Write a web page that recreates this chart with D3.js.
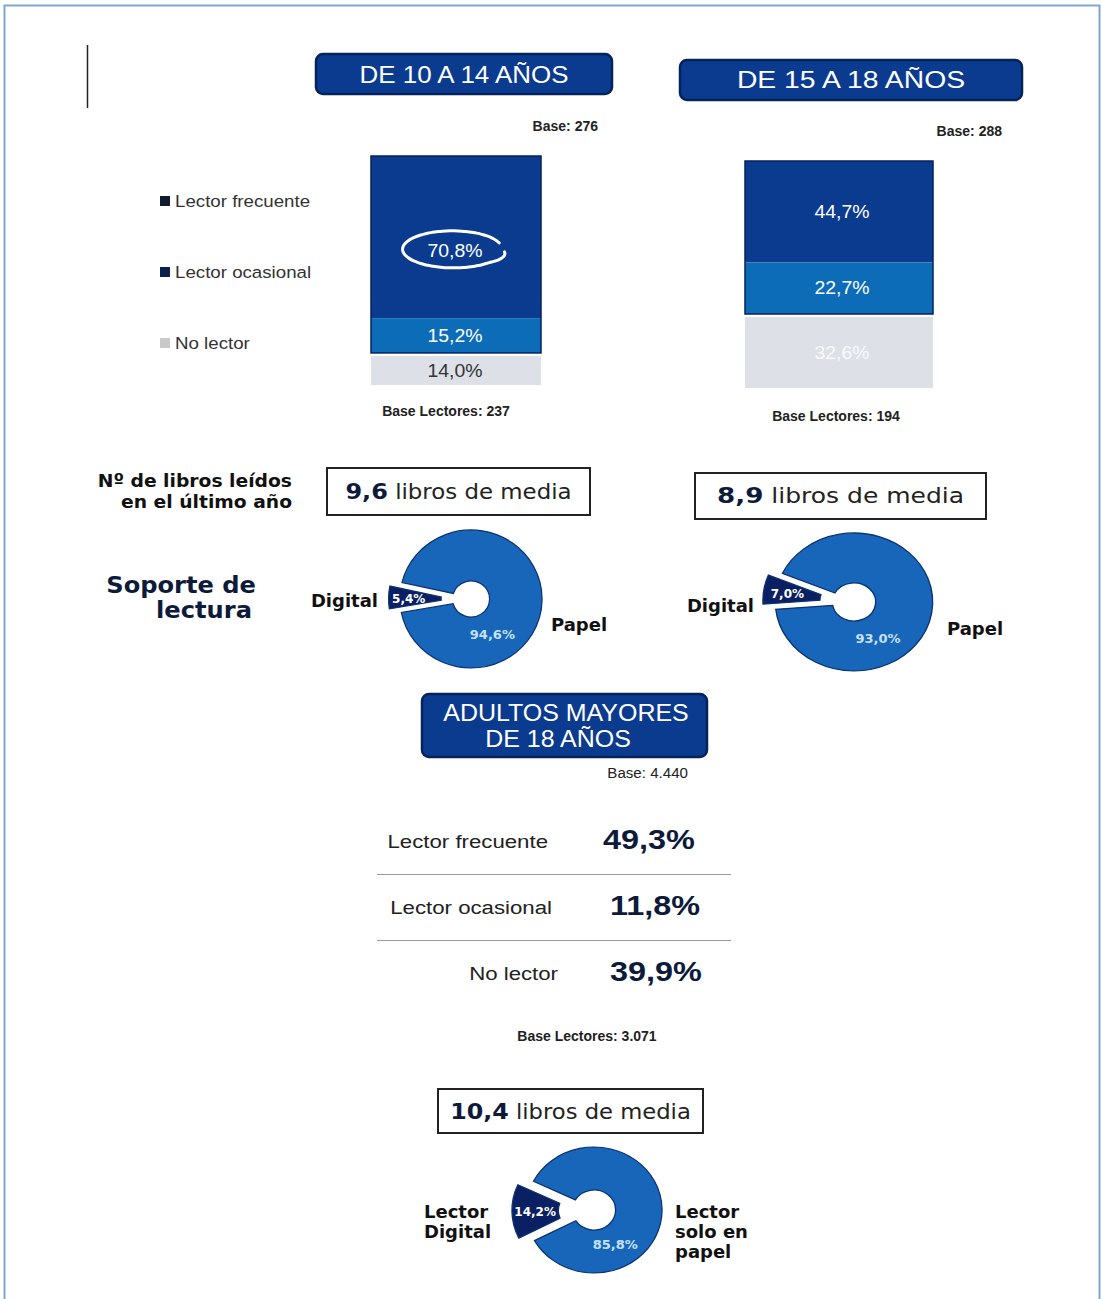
<!DOCTYPE html>
<html>
<head>
<meta charset="utf-8">
<script src="https://cdn.jsdelivr.net/npm/d3@7"></script>
<style>
  body { margin: 0; background: #fff; }
</style>
</head>
<body>
<div id="chart"></div>
<script>
// datos
const categories = ["Lector frecuente", "Lector ocasional", "No lector"];
const groupTitles = ["DE 10 A 14 AÑOS", "DE 15 A 18 AÑOS"];
const values1014 = [70.8, 15.2, 14.0];
const values1518 = [44.7, 22.7, 32.6];
const baseLabels = ["Base: 276", "Base: 288"];
const baseLectoresLabels = ["Base Lectores: 237", "Base Lectores: 194"];
const librosMedia = [9.6, 8.9, 10.4];
const supportLabels = ["Digital", "Papel"];
const support1014 = [5.4, 94.6];
const support1518 = [7.0, 93.0];
const supportAdults = [14.2, 85.8];
const adultTitle = ["ADULTOS MAYORES", "DE 18 AÑOS"];
const adultValues = [49.3, 11.8, 39.9];
const adultBase = "Base: 4.440";
const adultBaseLectores = "Base Lectores: 3.071";

const SANS = "'Liberation Sans', Arial, sans-serif";
const VERD = "'DejaVu Sans', Verdana, sans-serif";
const NAVY = "#0b3b8f";
const MID = "#0d6cb8";
const GREY = "#dde0e7";
const PAPEL = "#1766b9";
const DIGI = "#0b1f63";

const locale = d3.formatLocale({ decimal: ",", thousands: ".", grouping: [3], currency: ["", "€"] });
const f1 = locale.format(".1f");
const pct = (v) => f1(v) + "%";

const width = 1102;
const height = 1299;

const svg = d3
  .select("#chart")
  .append("svg")
  .attr("width", width)
  .attr("height", height);

function addText(sel, x, y, str, o = {}) {
  return sel
    .append("text")
    .attr("transform", `translate(${x},${y}) scale(${o.sx || 1},1)`)
    .attr("text-anchor", o.anchor || "start")
    .attr("dominant-baseline", "central")
    .style("font-family", o.family || SANS)
    .style("font-size", (o.size || 14) + "px")
    .style("font-weight", o.weight || "normal")
    .style("fill", o.fill || "#222")
    .text(str);
}

// marco
svg
  .append("rect")
  .attr("x", 4.5)
  .attr("y", 5.5)
  .attr("width", 1095)
  .attr("height", 1310)
  .style("fill", "none")
  .style("stroke", "#7fa5d4")
  .style("stroke-width", 2);

svg
  .append("line")
  .attr("x1", 87.5).attr("x2", 87.5)
  .attr("y1", 45).attr("y2", 108)
  .style("stroke", "#222")
  .style("stroke-width", 1.5);

function header(x, y, w, h, lines, o) {
  svg
    .append("rect")
    .attr("x", x).attr("y", y)
    .attr("width", w).attr("height", h)
    .attr("rx", 7)
    .style("fill", NAVY)
    .style("stroke", "#06225c")
    .style("stroke-width", 2.5);
  lines.forEach((t, i) => {
    addText(svg, o.cx[i], o.cy[i], t, { anchor: "middle", size: 24, fill: "#fff", sx: o.sx || 1 });
  });
}

header(316, 54, 296, 40, [groupTitles[0]], { cx: [464], cy: [74], sx: 1.08 });
header(680, 60, 342, 40, [groupTitles[1]], { cx: [851], cy: [80], sx: 1.18 });

// leyenda
const legendColors = ["#111a2e", "#0c1f4f", "#c9c9c9"];
const legendY = [201, 272, 343];
categories.forEach((c, i) => {
  svg
    .append("rect")
    .attr("x", 160).attr("y", legendY[i] - 5)
    .attr("width", 10).attr("height", 10)
    .style("fill", legendColors[i]);
  addText(svg, 175, legendY[i], c, { size: 17, fill: "#333", sx: 1.1 });
});

// barras apiladas
const barPanels = [
  { values: values1014, x: 371, w: 170, top: 156, h: 229, base: baseLabels[0], baseX: 598, baseY: 126, bl: baseLectoresLabels[0], blX: 446, blY: 411, labelColors: ["#fff", "#fff", "#333"] },
  { values: values1518, x: 745, w: 188, top: 161, h: 227, base: baseLabels[1], baseX: 1002, baseY: 131, bl: baseLectoresLabels[1], blX: 836, blY: 416, labelColors: ["#fff", "#fff", "rgba(255,255,255,0.85)"] },
];
const segColors = [NAVY, MID, GREY];

barPanels.forEach((p, pi) => {
  const y = d3.scaleLinear().domain([0, 100]).range([p.top, p.top + p.h]);
  const ends = d3.cumsum(p.values);
  const segs = p.values.map((v, i) => ({ v, y0: i ? ends[i - 1] : 0, y1: ends[i], i }));
  const g = svg.append("g");

  g.selectAll(".seg")
    .data(segs)
    .enter()
    .append("rect")
    .attr("class", "seg")
    .attr("x", p.x)
    .attr("width", p.w)
    .attr("y", (d) => y(d.y0) + (d.i === 2 ? 3 : 0))
    .attr("height", (d) => y(d.y1) - y(d.y0) - (d.i === 2 ? 3 : 0))
    .style("fill", (d) => segColors[d.i]);

  // contorno lectores
  g.append("rect")
    .attr("x", p.x).attr("y", y(0))
    .attr("width", p.w).attr("height", y(ends[1]) - y(0))
    .style("fill", "none")
    .style("stroke", "#07205a")
    .style("stroke-width", 1.5);

  segs.forEach((d) => {
    let ly = (y(d.y0) + y(d.y1)) / 2 + (d.i === 2 ? 1.5 : 0);
    if (pi === 0 && d.i === 0) ly += 14;
    addText(g, p.x + p.w / 2 + (pi === 0 ? -1 : 3), ly, pct(d.v), { anchor: "middle", size: 18, fill: p.labelColors[d.i], sx: 1.08 });
  });

  addText(svg, p.baseX, p.baseY, p.base, { anchor: "end", size: 14, weight: "bold", fill: "#222" });
  addText(svg, p.blX, p.blY, p.bl, { anchor: "middle", size: 14, weight: "bold", fill: "#222" });
});

// óvalo dibujado a mano alrededor del 70,8%
{
  const y = d3.scaleLinear().domain([0, 100]).range([156, 385]);
  const cx = 453;
  const cy = (y(0) + y(values1014[0])) / 2 + 14;
  const pts = d3.range(0.35, 2 * Math.PI + 0.15, 0.08).map((a) => {
    const grow = 1 + 0.06 * (a / (2 * Math.PI));
    return [cx + 49 * grow * Math.cos(a), cy - 2 + 18 * grow * Math.sin(-a) + (a > 5.5 ? (a - 5.5) * 6 : 0)];
  });
  svg
    .append("path")
    .attr("d", d3.line().curve(d3.curveBasis)(pts))
    .style("fill", "none")
    .style("stroke", "#fff")
    .style("stroke-width", 3)
    .style("stroke-linecap", "round");
}

// libros de media
addText(svg, 292, 481, "Nº de libros leídos", { anchor: "end", size: 18, weight: "bold", family: VERD, fill: "#111", sx: 1.04 });
addText(svg, 292, 502, "en el último año", { anchor: "end", size: 18, weight: "bold", family: VERD, fill: "#111", sx: 1.04 });

function mediaBox(x, y, w, h, v, sx) {
  svg
    .append("rect")
    .attr("x", x).attr("y", y)
    .attr("width", w).attr("height", h)
    .style("fill", "#fff")
    .style("stroke", "#222")
    .style("stroke-width", 2);
  const t = svg
    .append("text")
    .attr("transform", `translate(${x + w / 2},${y + h / 2}) scale(${sx},1)`)
    .attr("text-anchor", "middle")
    .attr("dominant-baseline", "central")
    .style("font-family", VERD)
    .style("font-size", "21px")
    .style("fill", "#222");
  t.append("tspan").style("font-weight", "bold").style("font-size", "22px").style("fill", "#0d1a3a").text(f1(v));
  t.append("tspan").text(" libros de media");
}

mediaBox(327, 468, 263, 47, librosMedia[0], 1.09);
mediaBox(695, 473, 291, 46, librosMedia[1], 1.19);
mediaBox(438, 1089, 265, 44, librosMedia[2], 1.08);

addText(svg, 256, 585, "Soporte de", { anchor: "end", size: 23, weight: "bold", family: VERD, fill: "#0d1a3a", sx: 1.05 });
addText(svg, 252, 610, "lectura", { anchor: "end", size: 23, weight: "bold", family: VERD, fill: "#0d1a3a", sx: 1.05 });

// donuts
function donut(values, o) {
  const p = values[0] / 100;
  const tc = (o.angle * Math.PI) / 180;
  const pie = d3
    .pie()
    .sort(null)
    .value((d) => d)
    .padAngle(0.05)
    .startAngle(tc - Math.PI * p)
    .endAngle(tc - Math.PI * p + 2 * Math.PI);
  const arcs = pie(values);
  const arc = d3.arc().innerRadius(o.ri).outerRadius(o.ro);

  const g = svg.append("g").attr("transform", `translate(${o.cx},${o.cy}) scale(${o.sx},1)`);

  g.selectAll(".slice")
    .data(arcs)
    .enter()
    .append("path")
    .attr("class", "slice")
    .attr("transform", (d, i) => (i === 0 ? `translate(${Math.sin(tc) * o.explode},${-Math.cos(tc) * o.explode})` : null))
    .attr("d", arc)
    .style("fill", (d, i) => (i === 0 ? DIGI : PAPEL))
    .style("stroke", "#0c3272")
    .style("stroke-width", 1.2);

  // etiquetas de porcentaje
  const rd = (o.ri + o.ro) / 2 + o.explode + o.lab;
  addText(svg, o.cx + Math.sin(tc) * rd * o.sx, o.cy - Math.cos(tc) * rd, pct(values[0]), { anchor: "middle", size: 12, weight: "bold", family: VERD, fill: "#fff" });
  const ta = (150 * Math.PI) / 180;
  const rp = (o.ri + o.ro) / 2 - 2;
  addText(svg, o.cx + Math.sin(ta) * rp * o.sx, o.cy - Math.cos(ta) * rp, pct(values[1]), { anchor: "middle", size: 13, weight: "bold", family: VERD, fill: "#c4e2ff" });
}

donut(support1014, { cx: 471, cy: 599, ro: 69, ri: 18, sx: 1.03, angle: -90, explode: 11, lab: 6 });
donut(support1518, { cx: 854, cy: 602, ro: 69, ri: 19, sx: 1.14, angle: -82, explode: 11, lab: 4 });
donut(supportAdults, { cx: 594, cy: 1210, ro: 63, ri: 20, sx: 1.08, angle: -92, explode: 13, lab: 0 });

const sideOpts = { size: 18, weight: "bold", family: VERD, fill: "#111" };
addText(svg, 378, 600, supportLabels[0], { ...sideOpts, anchor: "end" });
addText(svg, 551, 624, supportLabels[1], sideOpts);
addText(svg, 754, 605, supportLabels[0], { ...sideOpts, anchor: "end" });
addText(svg, 947, 628, supportLabels[1], sideOpts);
addText(svg, 424, 1211, "Lector", sideOpts);
addText(svg, 424, 1231, "Digital", sideOpts);
["Lector", "solo en", "papel"].forEach((t, i) => addText(svg, 675, 1211 + i * 20, t, sideOpts));

// adultos
header(422, 694, 285, 63, adultTitle, { cx: [566, 558], cy: [713, 739], sx: 1.04 });
addText(svg, 688, 773, adultBase, { anchor: "end", size: 14, fill: "#222", sx: 1.08 });

const rowY = [841, 907, 973];
const rowLabelX = [548, 552, 558];
const rowValueX = [603, 610, 610];
categories.forEach((c, i) => {
  addText(svg, rowLabelX[i], rowY[i], c, { anchor: "end", size: 19, fill: "#222", sx: 1.17 });
  addText(svg, rowValueX[i], rowY[i] - 2, pct(adultValues[i]), { size: 27, weight: "bold", fill: "#0d1a3a", sx: 1.2 });
});
[874, 940].forEach((ly) => {
  svg
    .append("line")
    .attr("x1", 377).attr("x2", 731)
    .attr("y1", ly + 0.5).attr("y2", ly + 0.5)
    .style("stroke", "#9a9a9a")
    .style("stroke-width", 1.2);
});

addText(svg, 587, 1036, adultBaseLectores, { anchor: "middle", size: 14, weight: "bold", fill: "#222" });
</script>
</body>
</html>
